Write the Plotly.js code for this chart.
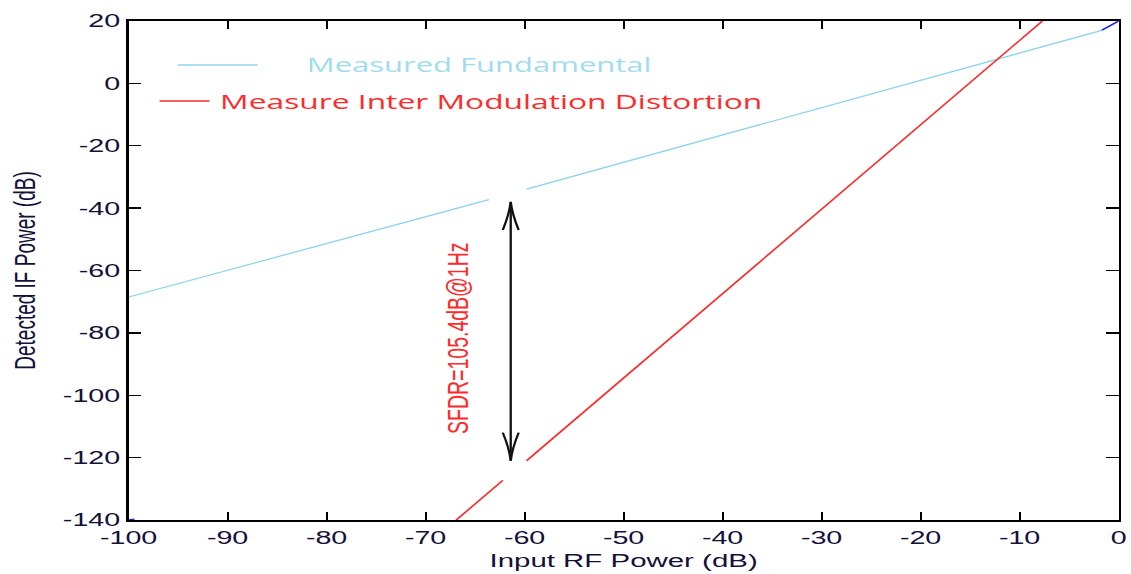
<!DOCTYPE html>
<html><head><meta charset="utf-8">
<script src="https://cdn.plot.ly/plotly-3.0.1.min.js"></script>
<style>
html,body{margin:0;padding:0;background:#fff;overflow:hidden;width:1131px;height:574px;}
#c{width:730px;height:574px;transform:scaleX(1.5493);transform-origin:0 0;}
</style>
</head><body><div id="c"></div>
<script>
// Data
const fundX = [-100, -63.6, null, -59.8, -1.7];
const fundY = [-68.5, -37.3, null, -33.9, 17.0];
const imdX = [-66.9, -62.2, null, -59.8, -7.7];
const imdY = [-140, -127.3, null, -121.0, 20];
const endX = [-1.7, 0, null, -100, -99.4];
const endY = [17.0, 20, null, -140, -139.7];
const arrowX = -61.4;
const arrowTop = -38;
const arrowBottom = -121;
const xTicks = [-100, -90, -80, -70, -60, -50, -40, -30, -20, -10, 0];
const yTicks = [20, 0, -20, -40, -60, -80, -100, -120, -140];
const legendNames = ['Measured Fundamental', 'Measure Inter Modulation Distortion'];
const sfdrText = 'SFDR=105.4dB@1Hz';

const cFund = '#8fd4ec';
const cImd = '#ff2a2a';
const cText = '#14103a';

const traces = [
  {x: fundX, y: fundY, mode: 'lines', line: {color: cFund, width: 1.3}, connectgaps: false, showlegend: false},
  {x: imdX, y: imdY, mode: 'lines', line: {color: cImd, width: 1.3}, connectgaps: false, showlegend: false},
  {x: endX, y: endY, mode: 'lines', line: {color: '#1a1aff', width: 1.3}, connectgaps: false, showlegend: false}
];

const axisCommon = {
  showgrid: false, zeroline: false, showline: true, linecolor: '#000', linewidth: 1.7,
  mirror: 'ticks', ticks: 'inside', ticklen: 8, tickwidth: 1.4, tickcolor: '#000',
  tickfont: {family: 'Liberation Sans, Arial, sans-serif', size: 18.5, color: cText}
};

// arrow heads (open V) built from the arrow end values
const headW = 0.8, headH = 9;
const arrowShapes = [
  {type: 'line', xref: 'x', yref: 'y', x0: arrowX, x1: arrowX, y0: arrowTop, y1: arrowBottom, line: {color: '#111', width: 1.5}},
  {type: 'path', xref: 'x', yref: 'y',
   path: `M ${arrowX - headW} ${arrowTop - headH} Q ${arrowX - 0.15} ${arrowTop - 4} ${arrowX} ${arrowTop} Q ${arrowX + 0.15} ${arrowTop - 4} ${arrowX + headW} ${arrowTop - headH}`,
   line: {color: '#111', width: 1.5}},
  {type: 'path', xref: 'x', yref: 'y',
   path: `M ${arrowX - headW} ${arrowBottom + headH} Q ${arrowX - 0.15} ${arrowBottom + 4} ${arrowX} ${arrowBottom} Q ${arrowX + 0.15} ${arrowBottom + 4} ${arrowX + headW} ${arrowBottom + headH}`,
   line: {color: '#111', width: 1.5}}
];

const layout = {
  width: 730, height: 574,
  margin: {l: 83, r: 8, t: 21, b: 54},
  paper_bgcolor: '#fff', plot_bgcolor: '#fff',
  showlegend: false,
  xaxis: Object.assign({}, axisCommon, {
    range: [-100, 0], tickvals: xTicks, ticktext: xTicks.map(String),
    title: {text: 'Input RF Power (dB)', standoff: 7, font: {family: 'Liberation Sans, Arial, sans-serif', size: 19, color: cText}}
  }),
  yaxis: Object.assign({}, axisCommon, {
    range: [-140, 20], tickvals: yTicks, ticktext: yTicks.map(String),
    title: {text: 'Detected IF Power (dB)', standoff: 12, font: {family: 'Liberation Sans, Arial, sans-serif', size: 19, color: cText}}
  }),
  shapes: [
    {type: 'line', xref: 'paper', yref: 'paper', x0: (178-129)/990, x1: (258-129)/990, y0: (520-65)/499, y1: (520-65)/499, line: {color: cFund, width: 1.3}},
    {type: 'line', xref: 'paper', yref: 'paper', x0: (160-129)/990, x1: (210-129)/990, y0: (520-101)/499, y1: (520-101)/499, line: {color: cImd, width: 1.3}}
  ].concat(arrowShapes),
  annotations: [
    {xref: 'paper', yref: 'paper', x: (304-129)/990, y: (520-65)/499, xanchor: 'left', yanchor: 'middle', showarrow: false,
     text: legendNames[0], font: {family: 'Open Sans, Noto Sans, sans-serif', size: 20, color: '#9fdcf0'}},
    {xref: 'paper', yref: 'paper', x: (218-129)/990, y: (520-101)/499, xanchor: 'left', yanchor: 'middle', showarrow: false,
     text: legendNames[1], font: {family: 'Open Sans, Noto Sans, sans-serif', size: 20.5, color: cImd}},
    {x: -66.8, y: -81.6, xref: 'x', yref: 'y', text: sfdrText, showarrow: false, textangle: -90,
     font: {family: 'Liberation Sans, Arial, sans-serif', size: 19.5, color: cImd}}
  ]
};

Plotly.newPlot('c', traces, layout, {displayModeBar: false, staticPlot: true});
</script>
</body></html>
